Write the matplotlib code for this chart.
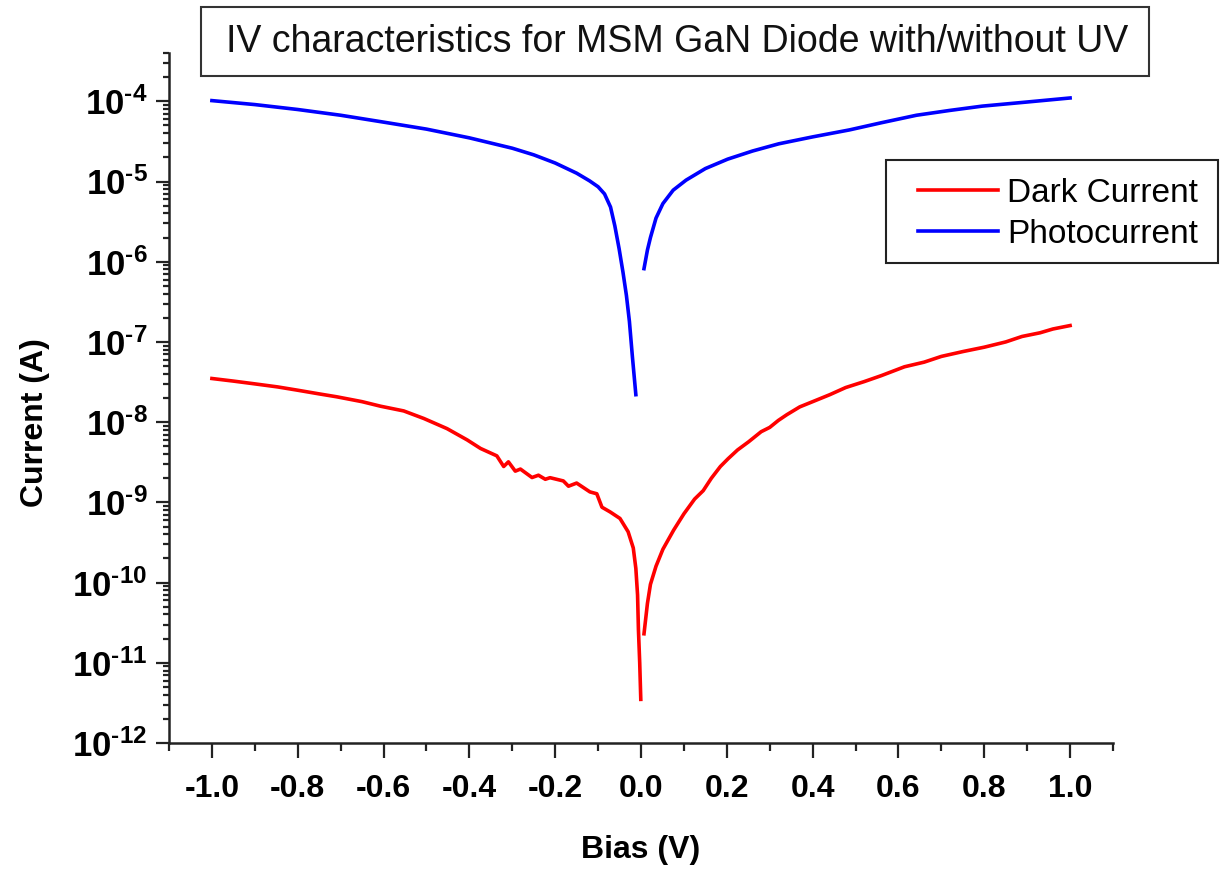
import numpy as np
import matplotlib
matplotlib.use("Agg")
import matplotlib.pyplot as plt
from matplotlib.patches import Rectangle
from matplotlib.ticker import FixedLocator, LogLocator, MultipleLocator, FuncFormatter, NullFormatter

# dark current, split around 0 V (log scale has no zero crossing)
dark_bias_neg = [-1.00, -0.95, -0.90, -0.847, -0.80, -0.75, -0.709, -0.65, -0.607, -0.553,
                 -0.506, -0.452, -0.405, -0.374, -0.336, -0.320, -0.309, -0.293, -0.281, -0.254,
                 -0.239, -0.223, -0.212, -0.181, -0.169, -0.150, -0.119, -0.103, -0.091, -0.072,
                 -0.049, -0.030, -0.018, -0.012, -0.008, -0.006, -0.003, -0.0005]
dark_current_neg = [3.5e-8, 3.25e-8, 3.0e-8, 2.75e-8, 2.5e-8, 2.25e-8, 2.07e-8, 1.8e-8, 1.58e-8, 1.38e-8,
                    1.11e-8, 8.3e-9, 6.0e-9, 4.7e-9, 3.8e-9, 2.8e-9, 3.2e-9, 2.45e-9, 2.6e-9, 2.04e-9,
                    2.18e-9, 1.94e-9, 2.03e-9, 1.85e-9, 1.59e-9, 1.74e-9, 1.35e-9, 1.28e-9, 8.7e-10, 7.6e-10,
                    6.3e-10, 4.3e-10, 2.7e-10, 1.5e-10, 7e-11, 2.6e-11, 1.0e-11, 3.5e-12]
dark_bias_pos = [0.007, 0.015, 0.022, 0.035, 0.051, 0.076, 0.10, 0.125, 0.145, 0.164,
                 0.185, 0.203, 0.225, 0.251, 0.28, 0.30, 0.32, 0.34, 0.37, 0.40,
                 0.44, 0.477, 0.52, 0.56, 0.614, 0.66, 0.70, 0.751, 0.80, 0.85,
                 0.888, 0.93, 0.96, 1.00]
dark_current_pos = [2.3e-11, 5.5e-11, 9.5e-11, 1.6e-10, 2.6e-10, 4.5e-10, 7.2e-10, 1.1e-9, 1.4e-9, 2.0e-9,
                    2.8e-9, 3.5e-9, 4.5e-9, 5.7e-9, 7.6e-9, 8.6e-9, 1.05e-8, 1.24e-8, 1.55e-8, 1.8e-8,
                    2.2e-8, 2.7e-8, 3.2e-8, 3.8e-8, 4.9e-8, 5.6e-8, 6.6e-8, 7.6e-8, 8.6e-8, 1.0e-7,
                    1.17e-7, 1.3e-7, 1.45e-7, 1.6e-7]

# photocurrent (UV on)
photo_bias_neg = [-1.00, -0.90, -0.80, -0.70, -0.60, -0.50, -0.40, -0.30, -0.25, -0.20,
                  -0.15, -0.12, -0.10, -0.085, -0.071, -0.061, -0.051, -0.042, -0.034, -0.027,
                  -0.020, -0.012]
photo_current_neg = [1.02e-4, 9.1e-5, 7.9e-5, 6.7e-5, 5.5e-5, 4.5e-5, 3.5e-5, 2.6e-5, 2.15e-5, 1.7e-5,
                     1.27e-5, 1.02e-5, 8.6e-6, 7.0e-6, 4.8e-6, 2.8e-6, 1.45e-6, 7.4e-7, 3.8e-7, 1.8e-7,
                     6.5e-8, 2.2e-8]
photo_bias_pos = [0.007, 0.015, 0.022, 0.035, 0.051, 0.075, 0.105, 0.15, 0.202, 0.26,
                  0.321, 0.40, 0.486, 0.56, 0.642, 0.72, 0.795, 0.90, 1.00]
photo_current_pos = [8.2e-7, 1.4e-6, 2.0e-6, 3.5e-6, 5.3e-6, 7.8e-6, 1.04e-5, 1.45e-5, 1.9e-5, 2.4e-5,
                     2.95e-5, 3.6e-5, 4.4e-5, 5.4e-5, 6.7e-5, 7.7e-5, 8.7e-5, 9.8e-5, 1.1e-4]

x_ticks = [-1.0, -0.8, -0.6, -0.4, -0.2, 0.0, 0.2, 0.4, 0.6, 0.8, 1.0]
y_exponents = [-12, -11, -10, -9, -8, -7, -6, -5, -4]

title_text = "IV characteristics for MSM GaN Diode with/without UV"

plt.rcParams["font.family"] = ["Liberation Sans", "DejaVu Sans"]
plt.rcParams["font.weight"] = "bold"
plt.rcParams["mathtext.fontset"] = "custom"
plt.rcParams["mathtext.rm"] = "Liberation Sans"
plt.rcParams["mathtext.bf"] = "Liberation Sans:bold"


def log_label(v, pos):
    # short hyphen in the exponent, like the original
    e = int(round(np.log10(v)))
    return r"$\mathbf{10^{%s%d}}$" % ("\u2010" if e < 0 else "", abs(e))


fig = plt.figure(figsize=(12.2, 8.69), dpi=100)
ax = fig.add_axes([169 / 1220, 1 - 743 / 869, 944 / 1220, 690 / 869])

ax.plot(dark_bias_neg, dark_current_neg, color="#ff0000", lw=2.6, label="Dark Current")
ax.plot(dark_bias_pos, dark_current_pos, color="#ff0000", lw=2.6)
ax.plot(photo_bias_neg, photo_current_neg, color="#0000ff", lw=2.6, label="Photocurrent")
ax.plot(photo_bias_pos, photo_current_pos, color="#0000ff", lw=2.6)

ax.set_yscale("log")
ax.set_xlim(-1.1, 1.1)
ax.set_ylim(1e-12, 4e-4)

ax.xaxis.set_major_locator(FixedLocator(x_ticks))
ax.xaxis.set_minor_locator(MultipleLocator(0.1))
ax.xaxis.set_major_formatter(FuncFormatter(lambda v, p: f"{round(v, 1) + 0.0:.1f}"))

ax.yaxis.set_major_locator(FixedLocator([10.0 ** e for e in y_exponents]))
ax.yaxis.set_minor_locator(LogLocator(base=10, subs=np.arange(2, 10), numticks=30))
ax.yaxis.set_major_formatter(FuncFormatter(log_label))
ax.yaxis.set_minor_formatter(NullFormatter())

for side in ("top", "right"):
    ax.spines[side].set_visible(False)
for side in ("left", "bottom"):
    ax.spines[side].set_linewidth(1.8)
    ax.spines[side].set_color("#222222")

ax.tick_params(which="both", direction="out", width=1.6, color="#222222")
ax.tick_params(axis="y", which="major", length=9.5, labelsize=25, pad=6)
ax.tick_params(axis="y", which="minor", length=4.5)
ax.tick_params(axis="x", which="major", length=11, labelsize=23, pad=11)
ax.tick_params(axis="x", which="minor", length=6)

ax.set_xlabel("Bias (V)", fontsize=23, fontweight="bold")
ax.set_ylabel("Current (A)", fontsize=23, fontweight="bold")
ax.xaxis.label.set_va("center")
ax.yaxis.label.set_va("center")
ax.xaxis.set_label_coords(0.5, -0.155)
ax.yaxis.set_label_coords(-0.142, 0.464)

# boxed title
fig.add_artist(Rectangle((201 / 1220, 1 - 76 / 869), 948 / 1220, 69 / 869,
                         transform=fig.transFigure, fill=False, ec="#333333", lw=1.5))
fig.text(677 / 1220, 1 - 42 / 869, title_text, ha="center", va="center",
         fontsize=27, fontweight="normal", color="#111111")

# legend entries without frame, frame drawn separately
leg = ax.legend(loc="upper left", bbox_to_anchor=(918 / 1220, 1 - 178 / 869),
                bbox_transform=fig.transFigure, borderaxespad=0, borderpad=0,
                frameon=False, handlelength=2.4, handletextpad=0.27,
                labelspacing=0.3, prop={"size": 24, "weight": "normal"})
fig.add_artist(Rectangle((886 / 1220, 1 - 263 / 869), 332 / 1220, 103 / 869,
                         transform=fig.transFigure, fill=False, ec="#222222", lw=1.5))

fig.savefig("out.png", dpi=100)
